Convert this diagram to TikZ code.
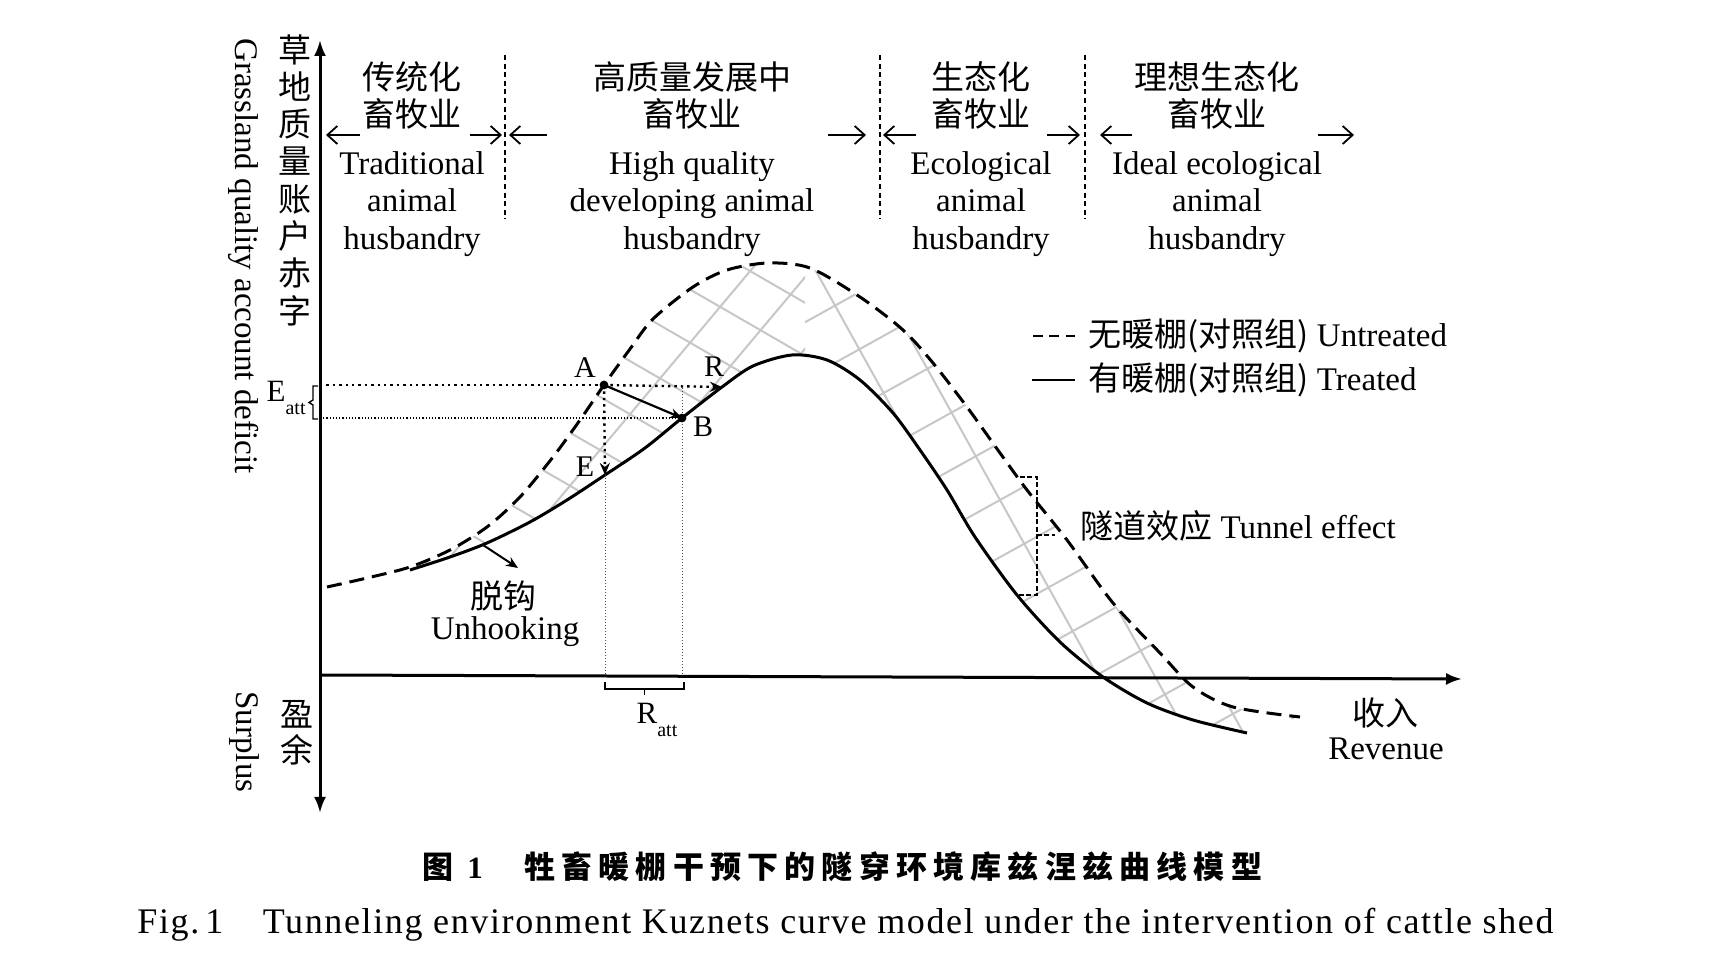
\documentclass[tikz,border=0pt]{standalone}
\usepackage{fontspec}
\setmainfont{Liberation Serif}
\newfontfamily\cjk{Noto Sans CJK SC}
\usetikzlibrary{arrows.meta}
\newcommand\subatt{\raisebox{-0.4em}{\fontsize{10}{10}\selectfont att}}
\begin{document}
\begin{tikzpicture}[x=0.5pt,y=-0.5pt,
  lbl/.style={font=\fontsize{16.5}{18.6}\selectfont, align=center, inner sep=0pt},
  lblzh/.style={font=\cjk\fontsize{16.5}{18.6}\selectfont, align=center, inner sep=0pt},
  axisline/.style={line width=1.5pt},
  untreated/.style={line width=1.5pt, dash pattern=on 7.5pt off 4pt},
  treated/.style={line width=1.5pt},
  hatch/.style={line width=1pt, black!22},
  sep/.style={line width=0.6pt, dash pattern=on 2.5pt off 1.8pt},
  secarrow/.style={line width=0.9pt, -{Straight Barb[length=5pt,width=9pt]}},
  tip/.style={-{Stealth[length=6pt,width=5pt]}},
]
\useasboundingbox[fill=white] (0,0) rectangle (1720,977);

% ---------- hatch between curves ----------
\begin{scope}
\clip plot[smooth] coordinates {(327,587) (367,578) (410,567) (450,550) (487,527) (520,497) (553,457) (580,420) (604,385) (630,349) (653,319) (693,287) (727,270) (768,263) (810,268) (860,297) (903,330) (933,363) (967,407) (1000,453) (1027,490) (1067,540) (1113,603) (1160,653) (1193,687) (1233,707) (1300,717)}
 -- plot[smooth] coordinates {(1247,733) (1193,720) (1147,703) (1103,677) (1060,642) (1017,595) (975,537) (947,490) (920,450) (893,413) (860,380) (827,360) (792,355) (753,366) (722,387) (682,418) (645,448) (605,475) (567,500) (530,522) (487,543) (450,557) (410,570)} -- cycle;
\begin{scope}
\clip (0,0) rectangle (805,977);
\foreach \k in {-16,...,16} {
  \draw[hatch, rotate around={50:(600,450)}] (-300,450+\k*46) -- (1500,450+\k*46);
  \draw[hatch, rotate around={-30:(600,450)}] (-300,450+\k*46) -- (1500,450+\k*46);
}
\end{scope}
\begin{scope}
\clip (805,0) rectangle (1720,977);
\foreach \k in {-16,...,16} {
  \draw[hatch, rotate around={-61:(1000,500)}] (-300,500+\k*50) -- (2300,500+\k*50);
  \draw[hatch, rotate around={29:(1000,500)}] (-300,500+\k*50) -- (2300,500+\k*50);
}
\end{scope}
\end{scope}

% ---------- axes ----------
\coordinate (ytop) at (320,40);
\coordinate (ybot) at (320,813);
\coordinate (O) at (320,675);
\coordinate (xend) at (1462,679);
\draw[axisline, {Latex[length=8pt,width=6pt]}-{Latex[length=8pt,width=6pt]}] (ybot) -- (ytop);
\draw[axisline, -{Latex[length=8pt,width=6pt]}] (O) -- (xend);

% ---------- section separators ----------
\coordinate (sep1t) at (505,55);  \coordinate (sep1b) at (505,219);
\coordinate (sep2t) at (880,55);  \coordinate (sep2b) at (880,219);
\coordinate (sep3t) at (1085,55); \coordinate (sep3b) at (1085,219);
\draw[sep] (sep1t) -- (sep1b);
\draw[sep] (sep2t) -- (sep2b);
\draw[sep] (sep3t) -- (sep3b);

% ---------- section arrows ----------
\coordinate (s1a) at (360,135);  \coordinate (s1b) at (326,135);
\coordinate (s1c) at (470,135);  \coordinate (s1d) at (502,135);
\coordinate (s2a) at (547,135);  \coordinate (s2b) at (509,135);
\coordinate (s2c) at (828,135);  \coordinate (s2d) at (866,135);
\coordinate (s3a) at (916,135);  \coordinate (s3b) at (883,135);
\coordinate (s3c) at (1047,135); \coordinate (s3d) at (1080,135);
\coordinate (s4a) at (1132,135); \coordinate (s4b) at (1100,135);
\coordinate (s4c) at (1318,135); \coordinate (s4d) at (1354,135);
\foreach \s in {1,2,3,4} {
  \draw[secarrow] (s\s a) -- (s\s b);
  \draw[secarrow] (s\s c) -- (s\s d);
}

% ---------- section labels ----------
\node[lblzh] (t1zh) at (412,95.5) {传统化\\畜牧业};
\node[lbl]   (t1en) at (412,204) {Traditional\\animal\\husbandry};
\node[lblzh] (t2zh) at (692,95.5) {高质量发展中\\畜牧业};
\node[lbl]   (t2en) at (692,204) {High quality\\developing animal\\husbandry};
\node[lblzh] (t3zh) at (981,95.5) {生态化\\畜牧业};
\node[lbl]   (t3en) at (981,204) {Ecological\\animal\\husbandry};
\node[lblzh] (t4zh) at (1217,95.5) {理想生态化\\畜牧业};
\node[lbl]   (t4en) at (1217,204) {Ideal ecological\\animal\\husbandry};

% ---------- axis labels ----------
\node[font=\cjk\fontsize{16.5}{18.65}\selectfont, align=center, inner sep=0pt] (yzh) at (295,180) {草\\地\\质\\量\\账\\户\\赤\\字};
\node[lbl, rotate=-90] (yen) at (244,256) {Grassland quality account deficit};
\node[font=\cjk\fontsize{16.5}{18}\selectfont, align=center, inner sep=0pt] (szh) at (297,733) {盈\\余};
\node[lbl, rotate=-90] (sen) at (244,742) {Surplus};
\node[lblzh] (xzh) at (1385,713) {收入};
\node[lbl] (xen) at (1386,749) {Revenue};

% ---------- curves ----------
\draw[untreated] plot[smooth] coordinates {(327,587) (367,578) (410,567) (450,550) (487,527) (520,497) (553,457) (580,420) (604,385) (630,349) (653,319) (693,287) (727,270) (768,263) (810,268) (860,297) (903,330) (933,363) (967,407) (1000,453) (1027,490) (1067,540) (1113,603) (1160,653) (1193,687) (1233,707) (1300,717)};
\draw[treated] plot[smooth] coordinates {(410,570) (450,557) (487,543) (530,522) (567,500) (605,475) (645,448) (682,418) (722,387) (753,366) (792,355) (827,360) (860,380) (893,413) (920,450) (947,490) (975,537) (1017,595) (1060,642) (1103,677) (1147,703) (1193,720) (1247,733)};

% ---------- A, B, R, E construction ----------
\coordinate (A) at (604,385);
\coordinate (B) at (682,418);
\coordinate (R) at (722,387);
\coordinate (E) at (605,475);
\coordinate (Ay) at (320,385);
\coordinate (By) at (320,418);
\coordinate (Ax) at (605,675);
\coordinate (Bt) at (682,385);
\coordinate (Bx) at (682,675);
\draw[line width=1.2pt, dotted] (Ay) -- (A);
\draw[line width=1.2pt, dotted, tip] (A) -- (R);
\draw[line width=0.6pt, densely dotted] (By) -- (B);
\draw[line width=1.2pt, dotted, tip] (A) -- (E);
\draw[line width=0.5pt, densely dotted, black!70] (E) -- (Ax);
\draw[line width=0.5pt, densely dotted, black!70] (Bt) -- (Bx);
\draw[line width=1.1pt, tip] (A) -- (B);
\fill (A) circle[radius=2.2pt];
\fill (B) circle[radius=2.2pt];
\node[font=\fontsize{15}{15}\selectfont, inner sep=0pt] (lA) at (585,368) {A};
\node[font=\fontsize{15}{15}\selectfont, inner sep=0pt] (lB) at (703,427) {B};
\node[font=\fontsize{15}{15}\selectfont, inner sep=0pt] (lR) at (714,367) {R};
\node[font=\fontsize{15}{15}\selectfont, inner sep=0pt] (lE) at (585,467) {E};

% E_att brace
\coordinate (ea1) at (318,386); \coordinate (ea2) at (318,419);
\draw[line width=0.7pt] (ea1) -- (313,386) -- (313,400) -- (309,402.5) -- (313,405) -- (313,419) -- (ea2);
\node[font=\fontsize{15.5}{15.5}\selectfont, inner sep=0pt, anchor=east] (Eatt) at (306,398) {E\subatt};

% R_att bracket
\coordinate (ra1) at (605,682); \coordinate (ra2) at (684,682);
\draw[line width=0.8pt] (ra1) -- (605,689) -- (684,689) -- (ra2);
\draw[line width=0.8pt] (644.5,689) -- (644.5,695);
\node[font=\fontsize{15.5}{15.5}\selectfont, inner sep=0pt] (Ratt) at (657,720) {R\subatt};

% unhooking
\coordinate (uh1) at (483,545); \coordinate (uh2) at (518,568);
\draw[line width=1pt, tip] (uh1) -- (uh2);
\node[lblzh] (uzh) at (503,596) {脱钩};
\node[lbl] (uen) at (505,632) {Unhooking};

% tunnel effect bracket
\draw[line width=0.6pt, dash pattern=on 2.5pt off 1.2pt] (1020,477) -- (1037,477) -- (1037,595) -- (1017,595);
\draw[line width=0.6pt, dash pattern=on 2.5pt off 1.2pt] (1037,535) -- (1055,535);
\node[lbl, anchor=west] (tun) at (1080,526) {{\cjk 隧道效应} Tunnel effect};

% legend
\coordinate (lg1a) at (1033,336); \coordinate (lg1b) at (1075,336);
\coordinate (lg2a) at (1032,380); \coordinate (lg2b) at (1075,380);
\draw[line width=1pt, dash pattern=on 5pt off 3.2pt] (lg1a) -- (lg1b);
\draw[line width=1pt] (lg2a) -- (lg2b);
\node[lbl, anchor=west] (lgt1) at (1088,336) {{\cjk 无暖棚(对照组)} Untreated};
\node[lbl, anchor=west] (lgt2) at (1088,380) {{\cjk 有暖棚(对照组)} Treated};

% captions
\node[font=\cjk\bfseries\fontsize{15.5}{15.5}\selectfont, inner sep=0pt, anchor=west] (capzh1) at (422,867) {图\hspace{7pt}\textbf{\fontspec{Liberation Serif}1}};
\node[font=\cjk\bfseries\fontsize{15.5}{15.5}\selectfont, inner sep=0pt, anchor=west] (capzh) at (524,867) {\addfontfeature{LetterSpace=20}牲畜暖棚干预下的隧穿环境库兹涅兹曲线模型};
\node[font=\fontsize{18}{18}\selectfont, inner sep=0pt, anchor=west] (capen) at (137,925) {\addfontfeature{LetterSpace=4.5}Fig.\,1\hspace{1.1em}Tunneling environment Kuznets curve model under the intervention of cattle shed};
\end{tikzpicture}
\end{document}
